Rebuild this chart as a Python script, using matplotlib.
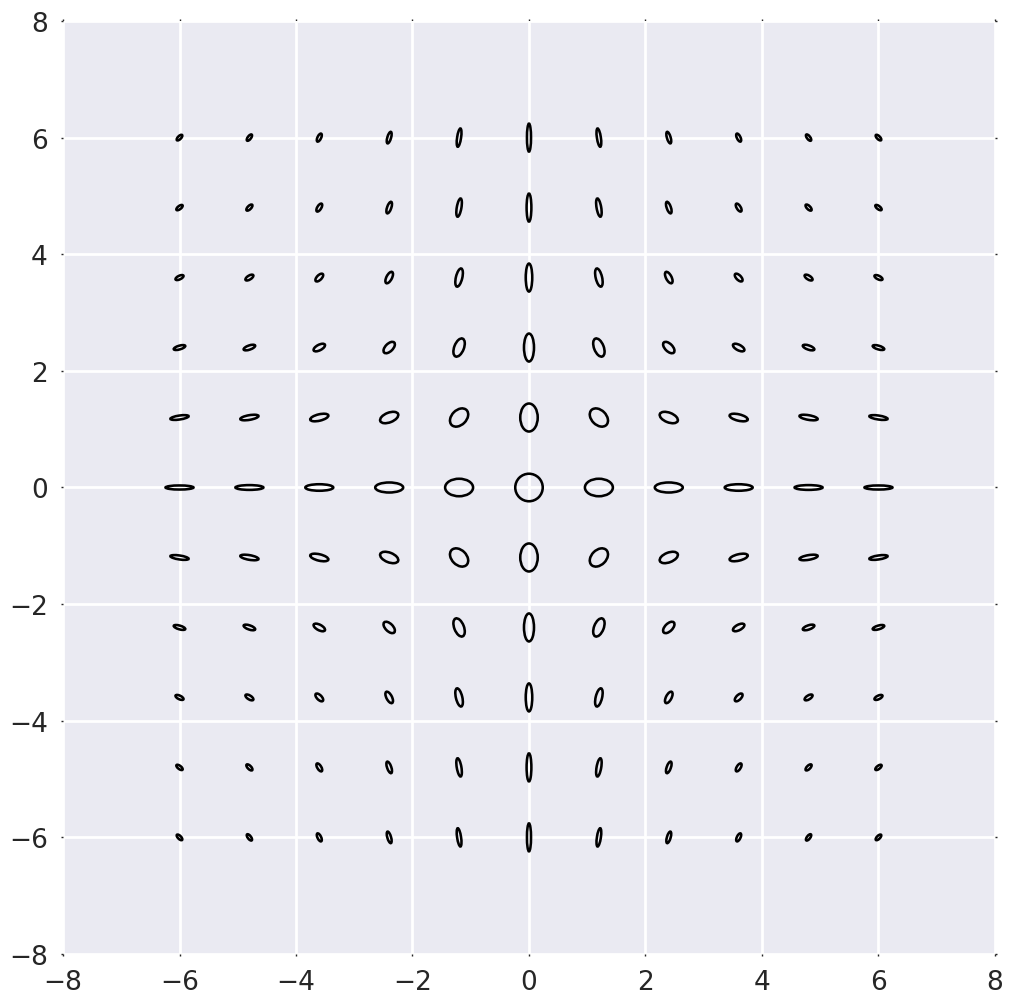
import matplotlib
matplotlib.use("Agg")
import matplotlib.pyplot as plt
from matplotlib.patches import Ellipse

# grid positions
x_pos = [-6.0, -4.8, -3.6, -2.4, -1.2, 0.0, 1.2, 2.4, 3.6, 4.8, 6.0]
y_pos = [6.0, 4.8, 3.6, 2.4, 1.2, 0.0, -1.2, -2.4, -3.6, -4.8, -6.0]

# ellipse full widths (major axis, data units), rows follow y_pos, columns follow x_pos
widths = [
    [.125, .130, .150, .205, .316, .480, .316, .205, .150, .130, .125],
    [.130, .135, .155, .208, .316, .480, .316, .208, .155, .135, .130],
    [.150, .155, .170, .216, .319, .480, .319, .216, .170, .155, .150],
    [.205, .208, .216, .244, .329, .480, .329, .244, .216, .208, .205],
    [.316, .316, .319, .329, .362, .480, .362, .329, .319, .316, .316],
    [.480, .480, .480, .480, .480, .472, .480, .480, .480, .480, .480],
    [.316, .316, .319, .329, .362, .480, .362, .329, .319, .316, .316],
    [.205, .208, .216, .244, .329, .480, .329, .244, .216, .208, .205],
    [.150, .155, .170, .216, .319, .480, .319, .216, .170, .155, .150],
    [.130, .135, .155, .208, .316, .480, .316, .208, .155, .135, .130],
    [.125, .130, .150, .205, .316, .480, .316, .205, .150, .130, .125],
]

# ellipse full heights (minor axis, data units)
heights = [
    [.055, .056, .062, .064, .068, .070, .068, .064, .062, .056, .055],
    [.056, .060, .068, .072, .080, .082, .080, .072, .068, .060, .056],
    [.062, .068, .082, .095, .110, .112, .110, .095, .082, .068, .062],
    [.064, .072, .095, .130, .166, .172, .166, .130, .095, .072, .064],
    [.068, .080, .110, .166, .254, .300, .254, .166, .110, .080, .068],
    [.070, .082, .112, .172, .300, .472, .300, .172, .112, .082, .070],
    [.068, .080, .110, .166, .254, .300, .254, .166, .110, .080, .068],
    [.064, .072, .095, .130, .166, .172, .166, .130, .095, .072, .064],
    [.062, .068, .082, .095, .110, .112, .110, .095, .082, .068, .062],
    [.056, .060, .068, .072, .080, .082, .080, .072, .068, .060, .056],
    [.055, .056, .062, .064, .068, .070, .068, .064, .062, .056, .055],
]

# orientation of the major axis (degrees, counter-clockwise)
angles = [
    [45.0, 52.5, 64.3, 73.8, 81.5, 90, -81.5, -73.8, -64.3, -52.5, -45.0],
    [37.5, 45.0, 58.2, 70.8, 80.2, 90, -80.2, -70.8, -58.2, -45.0, -37.5],
    [25.7, 31.8, 45.0, 62.4, 76.6, 90, -76.6, -62.4, -45.0, -31.8, -25.7],
    [16.2, 19.2, 27.6, 45.0, 68.6, 90, -68.6, -45.0, -27.6, -19.2, -16.2],
    [8.5, 9.8, 13.4, 21.4, 45.0, 90, -45.0, -21.4, -13.4, -9.8, -8.5],
    [0, 0, 0, 0, 0, 0, 0, 0, 0, 0, 0],
    [-8.5, -9.8, -13.4, -21.4, -45.0, 90, 45.0, 21.4, 13.4, 9.8, 8.5],
    [-16.2, -19.2, -27.6, -45.0, -68.6, 90, 68.6, 45.0, 27.6, 19.2, 16.2],
    [-25.7, -31.8, -45.0, -62.4, -76.6, 90, 76.6, 62.4, 45.0, 31.8, 25.7],
    [-37.5, -45.0, -58.2, -70.8, -80.2, 90, 80.2, 70.8, 58.2, 45.0, 37.5],
    [-45.0, -52.5, -64.3, -73.8, -81.5, 90, 81.5, 73.8, 64.3, 52.5, 45.0],
]

tick_vals = [-8, -6, -4, -2, 0, 2, 4, 6, 8]

fig = plt.figure(figsize=(10.13, 10.04), dpi=100)
ax = fig.add_axes([0.0622, 0.0488, 0.92, 0.9293])
ax.set_facecolor("#EAEAF2")
for s in ax.spines.values():
    s.set_visible(False)

for r, yv in enumerate(y_pos):
    for c, xv in enumerate(x_pos):
        e = Ellipse((xv, yv), width=widths[r][c], height=heights[r][c],
                    angle=angles[r][c], facecolor="none", edgecolor="black",
                    linewidth=1.85, zorder=3)
        ax.add_patch(e)

ax.set_xlim(-8, 8)
ax.set_ylim(-8, 8)
ax.set_xticks(tick_vals)
ax.set_yticks(tick_vals)
ax.grid(True, color="white", linewidth=2.0, zorder=0)
ax.set_axisbelow(True)
ax.tick_params(axis="both", which="both", direction="out", length=1.5, width=1,
               color="#262626", labelsize=19, labelcolor="#262626",
               top=True, right=True, pad=9.5)

fig.savefig("out.png", dpi=100, facecolor="white")
